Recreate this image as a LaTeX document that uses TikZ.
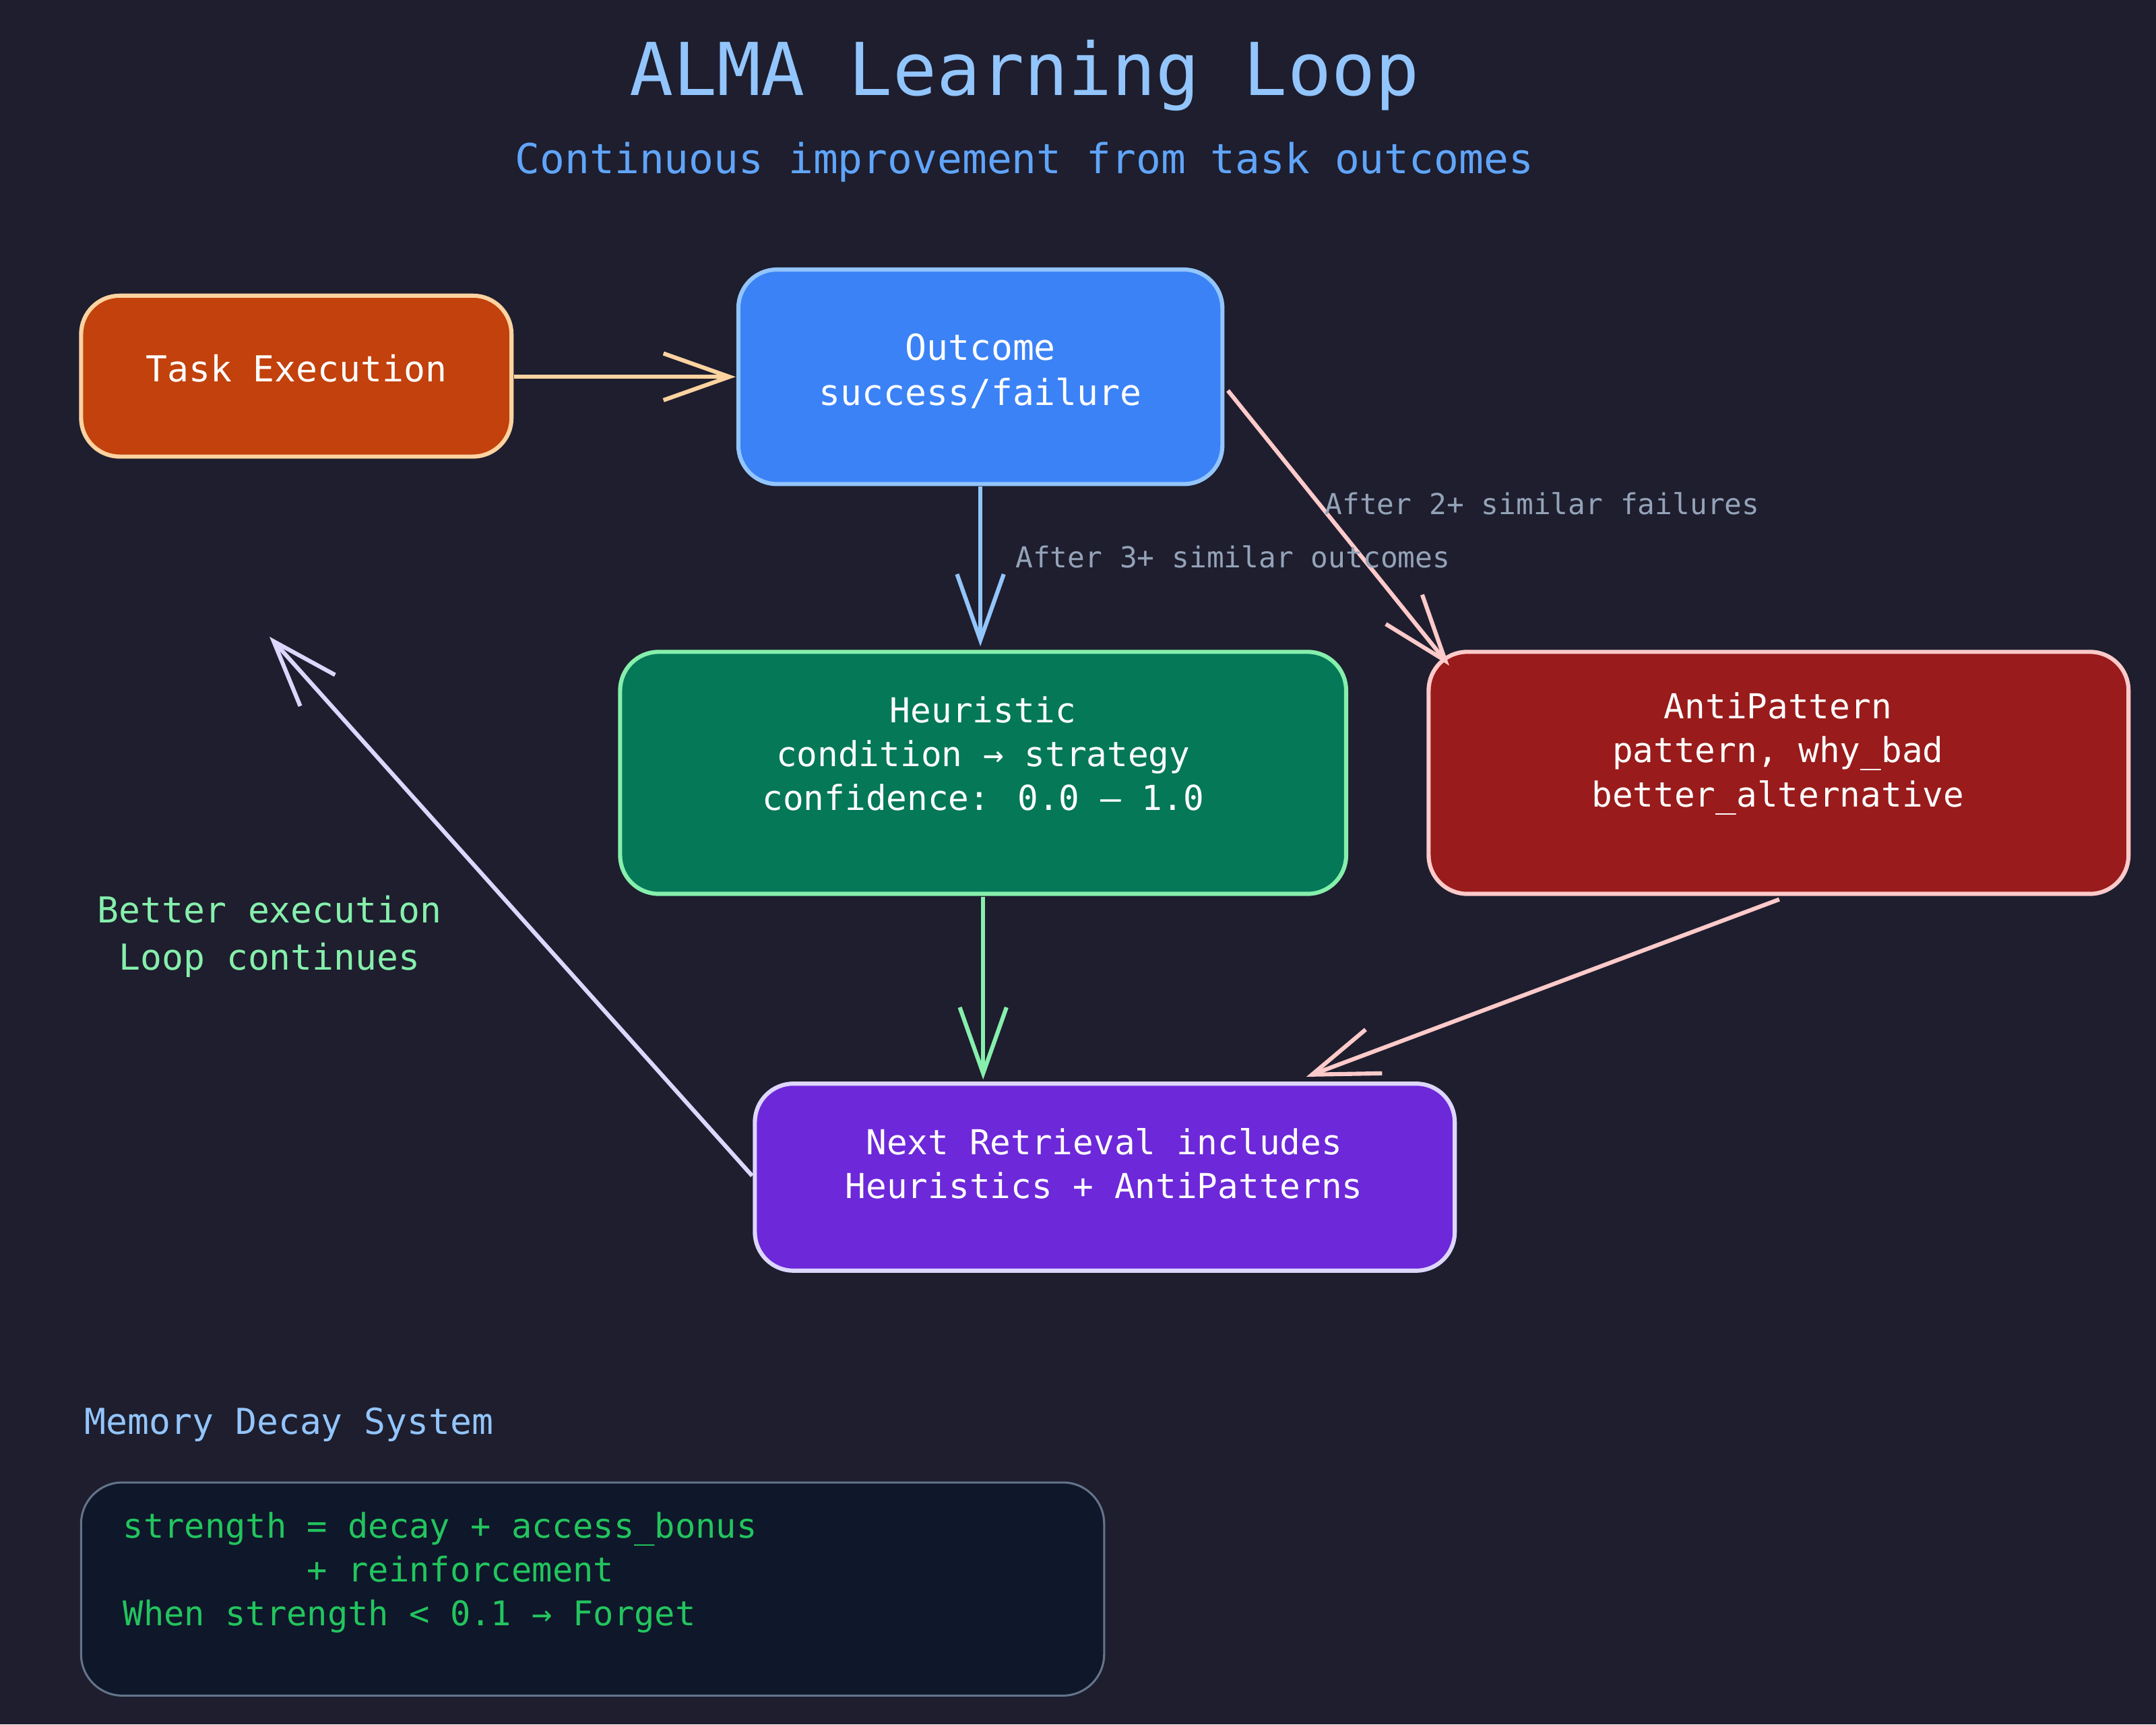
\documentclass[tikz,border=0pt]{standalone}
\usepackage{fontspec}
\setmainfont{DejaVu Sans Mono}
\usetikzlibrary{arrows.meta}
\definecolor{bg}{HTML}{1E1E2E}
\definecolor{peach}{RGB}{253,211,160}
\definecolor{orangef}{RGB}{194,65,12}
\definecolor{bluef}{RGB}{59,130,246}
\definecolor{bluel}{RGB}{147,197,253}
\definecolor{greenf}{RGB}{4,120,87}
\definecolor{greenl}{RGB}{134,239,172}
\definecolor{redf}{RGB}{153,27,27}
\definecolor{redl}{RGB}{254,202,202}
\definecolor{purf}{RGB}{109,40,217}
\definecolor{purl}{RGB}{221,214,254}
\definecolor{subc}{RGB}{96,165,250}
\definecolor{grayl}{RGB}{148,163,184}
\definecolor{memf}{RGB}{15,23,42}
\definecolor{memd}{RGB}{100,116,139}
\definecolor{memt}{RGB}{34,197,94}
\begin{document}
\begin{tikzpicture}[x=1pt,y=-1pt,
  box/.style={rounded corners=28pt,line width=3pt,text=white,align=center,font=\fontsize{26}{33}\selectfont},
  arr/.style={line width=3pt,-{Straight Barb[length=48pt,width=34pt,line width=3pt]}},
  lbl/.style={text=grayl,font=\fontsize{21}{25}\selectfont,anchor=west}]
\fill[bg] (0,0) rectangle (1568,1254);
\useasboundingbox (0,0) rectangle (1568,1254);
\node[text=bluel,font=\fontsize{53}{60}\selectfont] (title) at (745,55) {ALMA Learning Loop};
\node[text=subc,font=\fontsize{30}{36}\selectfont] (sub) at (745,118) {Continuous improvement from task outcomes};
\draw[box,fill=orangef,draw=peach] (59,215) rectangle (372,332);
\node[box,draw=none] (task) at (215.5,268) {Task Execution};
\coordinate (taskR) at (374,274);
\draw[box,fill=bluef,draw=bluel] (537,196) rectangle (889,352);
\node[box,draw=none] (out) at (713,270) {Outcome\\success/failure};
\draw[box,fill=greenf,draw=greenl] (451,474) rectangle (979,650);
\node[box,draw=none,font=\fontsize{25}{32}\selectfont] (heu) at (715,548) {Heuristic\\condition → strategy\\confidence: 0.0 – 1.0};
\draw[box,fill=redf,draw=redl] (1039,474) rectangle (1548,650);
\node[box,draw=none,font=\fontsize{25}{32}\selectfont] (anti) at (1293,548) {AntiPattern\\pattern, why\_bad\\better\_alternative};
\draw[box,fill=purf,draw=purl] (549,788) rectangle (1058,924);
\node[box,draw=none,font=\fontsize{25}{32}\selectfont] (next) at (803,846) {Next Retrieval includes\\Heuristics + AntiPatterns};
\coordinate (a1) at (535,274);
\draw[arr,peach] (taskR) -- (a1);
\coordinate (o1) at (713,354); \coordinate (h1) at (713,470);
\draw[arr,bluel] (o1) -- (h1);
\coordinate (o2) at (893,284); \coordinate (ap1) at (1054,484);
\draw[arr,redl] (o2) -- (ap1);
\coordinate (h2) at (715,652); \coordinate (n1) at (715,785);
\draw[arr,greenl] (h2) -- (n1);
\coordinate (ap2) at (1294,654); \coordinate (n2) at (950,783);
\draw[arr,redl] (ap2) -- (n2);
\coordinate (n3) at (547,855); \coordinate (loop) at (196,463);
\draw[arr,purl] (n3) -- (loop);
\node[lbl] (l1) at (735,405) {After 3+ similar outcomes};
\node[lbl] (l2) at (960,366) {After 2+ similar failures};
\node[text=greenl,align=center,font=\fontsize{26}{34}\selectfont] (better) at (196,681) {Better execution\\Loop continues};
\node[anchor=west,text=bluel,font=\fontsize{26}{32}\selectfont] (mt) at (58,1036) {Memory Decay System};
\draw[rounded corners=30pt,line width=1.5pt,fill=memf,draw=memd] (59,1078) rectangle (803,1233);
\node[anchor=north west,align=left,text=memt,font=\fontsize{24.7}{32}\selectfont] (mem) at (86,1096) {strength = decay + access\_bonus\\\phantom{strength }+ reinforcement\\When strength < 0.1 → Forget};
\end{tikzpicture}
\end{document}
